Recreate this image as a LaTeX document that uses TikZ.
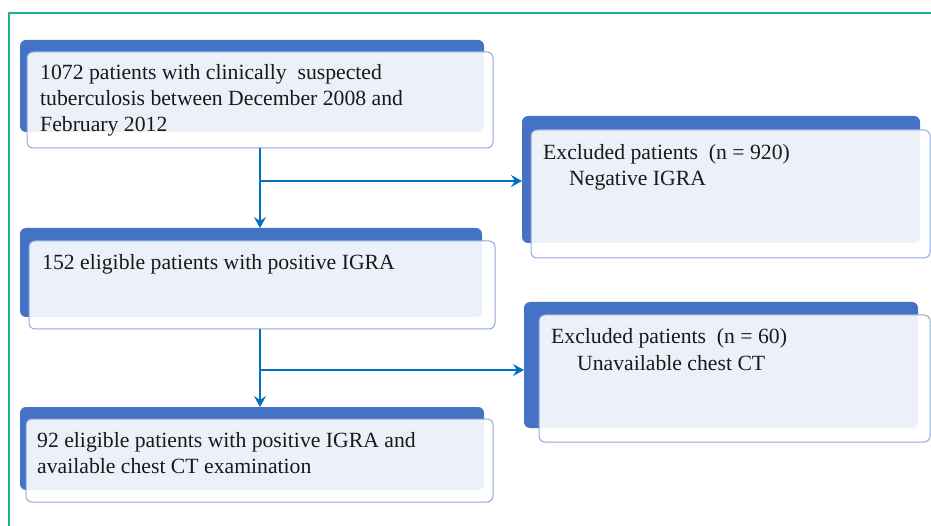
\documentclass[tikz,border=0pt]{standalone}
\usepackage{fontspec}
\setmainfont{Liberation Serif}
\usetikzlibrary{arrows.meta}
\definecolor{bblue}{HTML}{4472C4}
\definecolor{edgeblue}{HTML}{8FAADC}
\definecolor{arrowblue}{HTML}{0070C0}
\definecolor{frameteal}{HTML}{20B294}
\tikzset{
  backbox/.style={fill=bblue, rounded corners=6pt, inner sep=0pt, outer sep=0pt, anchor=north west, minimum width=#1},
  frontbox/.style={draw=edgeblue, line width=1pt, fill=white, fill opacity=0.9, rounded corners=6pt, inner sep=0pt, outer sep=0pt, anchor=north west, minimum width=#1},
  txt/.style={anchor=base west, font=\fontsize{21.7}{26}\selectfont, align=left, inner sep=0pt, text=black!90},
  flowline/.style={draw=arrowblue, line width=2.6pt},
  flow/.style={flowline, -{Stealth[length=11pt,width=12pt,inset=4pt]}}
}
\begin{document}
\begin{tikzpicture}[x=1pt,y=-1pt]
\useasboundingbox (0,0) rectangle (931,526);
% frame
\draw[frameteal, line width=1.4pt] (9,526) -- (9,13) -- (931,13);

% box 1
\node[backbox=464pt, minimum height=92pt] (b1) at (20,40) {};
\node[frontbox=466pt, minimum height=96pt] (f1) at (27,52) {};
\node[txt] (t1) at (40,132) {1072 patients with clinically\ \ suspected\\tuberculosis between December 2008 and\\February 2012};

% right box 1
\node[backbox=398pt, minimum height=127pt] (rb1) at (522,116) {};
\node[frontbox=399pt, minimum height=128pt] (rf1) at (531,130) {};
\node[txt] (rt1) at (543,186) {Excluded patients\ \ (n = 920)\\\hspace*{26pt}Negative IGRA};

% box 2
\node[backbox=462pt, minimum height=89pt] (b2) at (20,228) {};
\node[frontbox=466pt, minimum height=88pt] (f2) at (29,241) {};
\node[txt] (t2) at (42,270) {152 eligible patients with positive IGRA};

% right box 2
\node[backbox=394pt, minimum height=126pt] (rb2) at (524,302) {};
\node[frontbox=391pt, minimum height=127pt] (rf2) at (539,315) {};
\node[txt] (rt2) at (551,370) {Excluded patients\ \ (n = 60)\\\hspace*{26pt}Unavailable chest CT};

% box 3
\node[backbox=464pt, minimum height=83pt] (b3) at (20,407) {};
\node[frontbox=467pt, minimum height=83pt] (f3) at (26,419) {};
\node[txt] (t3) at (37,473) {92 eligible patients with positive IGRA and\\available chest CT examination};

% connectors
\coordinate (j1) at (260,181);
\coordinate (j2) at (260,370);
\draw[flow] (f1.south -| j1) -- (b2.north -| j1);
\draw[flow] (j1) -- (j1 -| rb1.west);
\draw[flow] (f2.south -| j2) -- (b3.north -| j2);
\draw[flow] (j2) -- (j2 -| rb2.west);
\end{tikzpicture}
\end{document}
